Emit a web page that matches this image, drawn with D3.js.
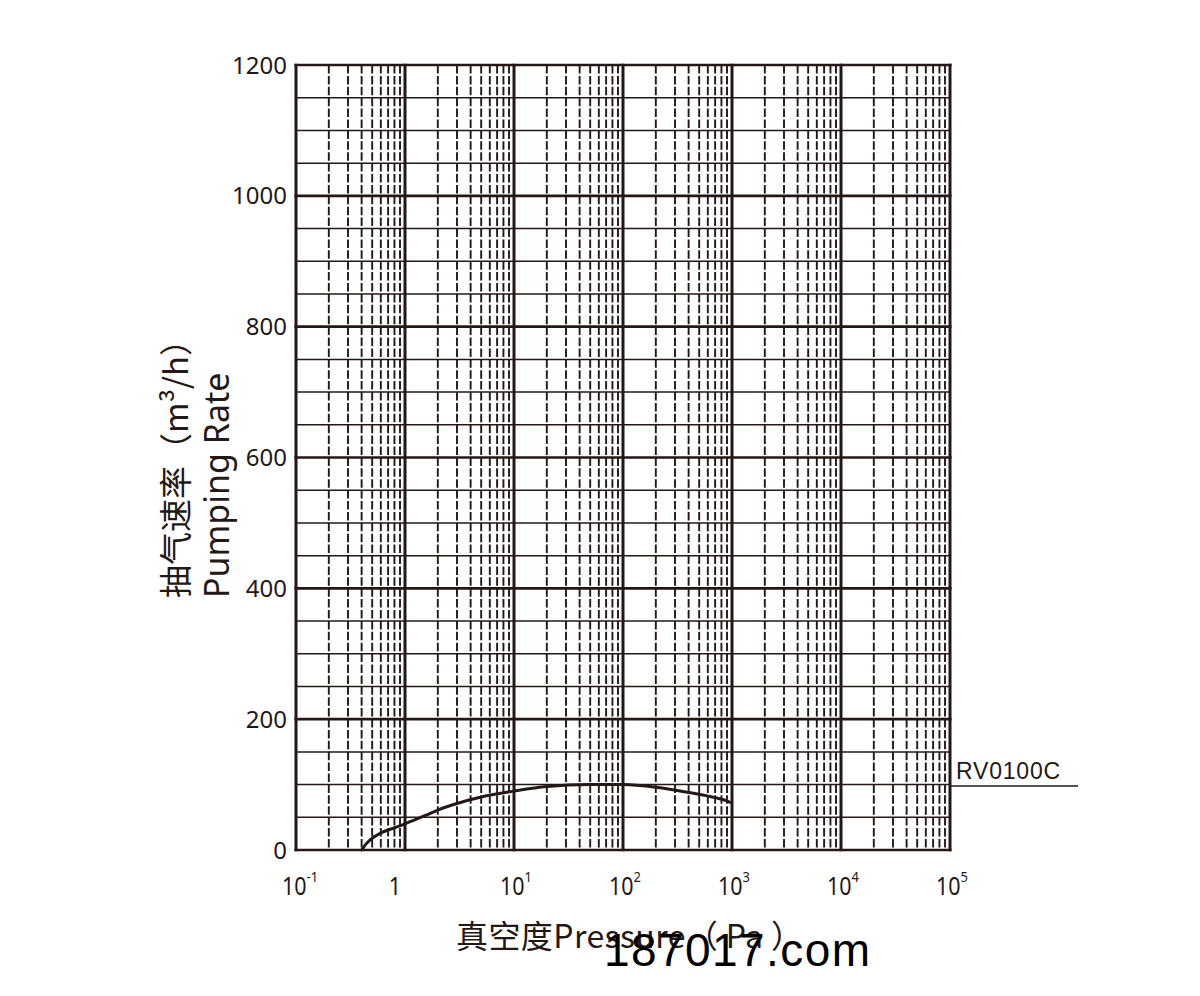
<!DOCTYPE html>
<html><head><meta charset="utf-8">
<script src="https://cdn.jsdelivr.net/npm/d3@7"></script>
<style>body{margin:0;background:#fff}svg{display:block}</style>
</head><body>
<svg id="c" width="1200" height="996"></svg>
<script>
// Data
const pressure = [0.40, 0.42, 0.45, 0.5, 0.6, 0.8, 1, 1.5, 2, 3, 5, 10, 20, 50, 100, 200, 400, 700, 900, 950];
const rate     = [0,    5,    11,   18,  26,  34,  40, 52,  61, 71, 81, 90, 97, 100, 100, 96, 88,  80,  75,  73];
const yTicks = [0, 200, 400, 600, 800, 1000, 1200];
const xDecades = [-1, 0, 1, 2, 3, 4, 5];
const seriesName = "RV0100C";
const yTitleCN = "抽气速率（m³/h）";
const yTitleEN = "Pumping Rate";
const xTitle = "真空度Pressure（ Pa ）";
const watermark = "187017.com";

const svg = d3.select("#c");
const x = d3.scaleLog().domain([0.1, 1e5]).range([296, 950]);
const y = d3.scaleLinear().domain([0, 1200]).range([850, 65]);
const ink = "#231815";

const g = svg.append("g");
// minor horizontal lines every 50
const hMinor = d3.range(0, 1201, 50).filter(v => v % 200 !== 0);
g.selectAll(".hm").data(hMinor).join("line")
  .attr("x1", x(0.1)).attr("x2", x(1e5))
  .attr("y1", d => y(d)).attr("y2", d => y(d))
  .attr("stroke", ink).attr("stroke-width", 1.5);
// minor vertical dashed lines
const vMinor = [];
for (let e = -1; e < 5; e++) for (let k = 2; k <= 9; k++) vMinor.push(k * Math.pow(10, e));
g.selectAll(".vm").data(vMinor).join("line")
  .attr("x1", d => x(d)).attr("x2", d => x(d))
  .attr("y1", y(1200)).attr("y2", y(0))
  .attr("stroke", ink).attr("stroke-width", 1.9)
  .attr("stroke-dasharray", "8.5,2.4");
// major horizontal
g.selectAll(".hM").data(yTicks).join("line")
  .attr("x1", x(0.1) - 1.5).attr("x2", x(1e5) + 1.5)
  .attr("y1", d => y(d)).attr("y2", d => y(d))
  .attr("stroke", ink).attr("stroke-width", 2.6);
// major vertical
g.selectAll(".vM").data(xDecades).join("line")
  .attr("x1", d => x(Math.pow(10, d))).attr("x2", d => x(Math.pow(10, d)))
  .attr("y1", y(1200) - 1.3).attr("y2", y(0) + 1.3)
  .attr("stroke", ink).attr("stroke-width", 3);

// curve
const pts = pressure.map((p, i) => [p, rate[i]]);
svg.append("path").datum(pts)
  .attr("d", d3.line().x(d => x(d[0])).y(d => y(d[1])).curve(d3.curveMonotoneX))
  .attr("fill", "none").attr("stroke", ink).attr("stroke-width", 3).attr("stroke-linecap", "round");

// legend label
svg.append("line").attr("x1", x(1e5)).attr("x2", 1078)
  .attr("y1", y(98)).attr("y2", y(98)).attr("stroke", ink).attr("stroke-width", 1.5);
svg.append("text").attr("x", 956).attr("y", y(98) - 7)
  .attr("font-family", "Liberation Sans, Arial, sans-serif").attr("font-size", 23)
  .attr("letter-spacing", 0.8).attr("fill", ink).text(seriesName);

// y tick labels
svg.selectAll(".yt").data(yTicks).join("text")
  .attr("x", 287).attr("y", d => y(d)).attr("dy", "0.36em")
  .attr("text-anchor", "end").attr("font-family", "Noto Sans, sans-serif")
  .attr("font-size", 24).attr("fill", ink).text(d => d);

// x tick labels (slightly condensed)
xDecades.forEach(e => {
  const px = x(Math.pow(10, e));
  const grp = svg.append("g").attr("transform", `translate(${e === 0 ? px - 10 : px - 14},895) scale(0.86,1)`);
  if (e === 0) {
    grp.append("text").attr("text-anchor", "middle")
      .attr("font-family", "Noto Sans, sans-serif").attr("font-size", 25).attr("fill", ink).text("1");
  } else {
    const t = grp.append("text")
      .attr("font-family", "Noto Sans, sans-serif").attr("font-size", 25).attr("fill", ink);
    t.append("tspan").text("10");
    t.append("tspan").attr("dy", -13).attr("font-size", 15).text(String(e));
  }
});

// axis titles
svg.append("text").attr("transform", "translate(188,598) rotate(-90)")
  .attr("font-family", "Noto Sans CJK SC, sans-serif").attr("font-size", 33).attr("fill", ink)
  .text(yTitleCN);
svg.append("text").attr("transform", "translate(229,598) rotate(-90)")
  .attr("font-family", "Noto Sans, sans-serif").attr("font-size", 34).attr("fill", ink)
  .text(yTitleEN);
svg.append("text").attr("x", 456).attr("y", 948)
  .attr("font-family", "Noto Sans CJK SC, sans-serif").attr("font-size", 32).attr("fill", ink)
  .attr("textLength", 347).attr("lengthAdjust", "spacing").text(xTitle);
svg.append("text").attr("x", 604).attr("y", 966)
  .attr("font-family", "Liberation Sans, Arial, sans-serif").attr("font-size", 46).attr("fill", "#000")
  .attr("textLength", 266).attr("lengthAdjust", "spacing").text(watermark);
</script>
</body></html>
